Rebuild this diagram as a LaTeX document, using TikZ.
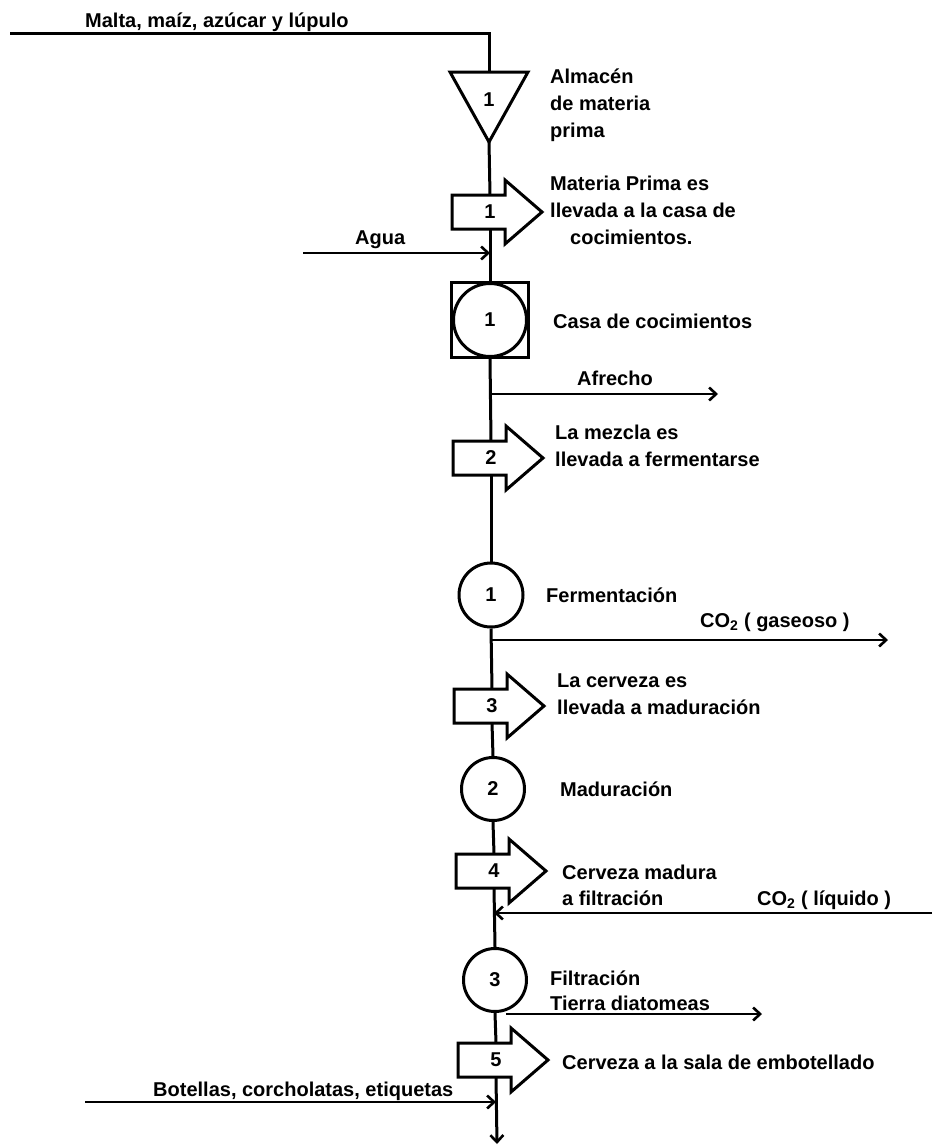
\documentclass[tikz,border=0pt]{standalone}
\usepackage{fontspec}
\setmainfont{Liberation Sans}
\usetikzlibrary{arrows.meta,calc}

% outline of a transport symbol around the number node #1
\newcommand\tblockoutline[1]{%
  \draw[outline] ($(#1)+(-38,-17)$) -- ($(#1)+(15,-17)$) -- ($(#1)+(15,-32)$)
    -- ($(#1)+(52,0)$) -- ($(#1)+(15,32)$) -- ($(#1)+(15,17)$)
    -- ($(#1)+(-38,17)$) -- cycle;}

\begin{document}
\begin{tikzpicture}[x=1pt,y=-1pt,
  every node/.style={font=\fontsize{20}{24}\selectfont\bfseries},
  flow/.style={line width=3pt},
  sideline/.style={line width=2.2pt},
  flowtip/.style={-{Straight Barb[length=7pt,width=13pt,line width=2.6pt]}},
  outline/.style={line width=3pt, line join=miter},
  opcirc/.style={circle, draw, line width=3pt, minimum size=63pt, inner sep=0pt},
  tbody/.style={rectangle, minimum width=20pt, minimum height=34pt, inner sep=0pt},
  lbl/.style={anchor=base west, inner sep=0pt},
]
\useasboundingbox (0,0) rectangle (932,1146);

% ---------- storage of raw material ----------
\node[inner sep=0pt] (alm) at (489,100) {1};
\coordinate (almtop) at (489,72);
\coordinate (almbot) at (489,142);
\draw[outline] (450,72) -- (528,72) -- (almbot) -- cycle;
\coordinate (rawin) at (10,33);
\coordinate (rawcorner) at (489,33);
\draw[flow] (rawin) -- (rawcorner) -- (almtop);
\node[lbl] at (85,27) {Malta, maíz, azúcar y lúpulo};
\node[lbl] at (550,83) {Almacén};
\node[lbl] at (550,110) {de materia};
\node[lbl] at (550,137) {prima};

% ---------- transport 1 ----------
\node[tbody] (t1) at (490,212) {1};
\tblockoutline{t1}
\node[lbl] at (550,190) {Materia Prima es};
\node[lbl] at (550,217) {llevada a la casa de};
\node[lbl] at (570,244) {cocimientos.};

% ---------- brewing house ----------
\node[draw, line width=3pt, minimum width=77pt, minimum height=75pt, inner sep=0pt] (casa) at (490,320) {};
\node[opcirc, minimum size=73pt] (casac) at (490,320) {1};
\node[lbl] at (553,328) {Casa de cocimientos};

\coordinate (j1) at (490,253);
\coordinate (aguain) at (303,253);
\draw[sideline, flowtip] (aguain) -- (j1);
\node[lbl] at (355,244) {Agua};

\coordinate (j2) at (490,394);
\coordinate (afout) at (718,394);
\draw[sideline, flowtip] (j2) -- (afout);
\node[lbl] at (577,385) {Afrecho};

% ---------- transport 2 ----------
\node[tbody] (t2) at (491,458) {2};
\tblockoutline{t2}
\node[lbl] at (555,439) {La mezcla es};
\node[lbl] at (555,466) {llevada a fermentarse};

% ---------- fermentation ----------
\node[opcirc, minimum size=64pt] (ferm) at (491,595) {1};
\node[lbl] at (546,602) {Fermentación};
\coordinate (j3) at (491,640);
\coordinate (gasout) at (888,640);
\draw[sideline, flowtip] (j3) -- (gasout);
\node[lbl] at (700,627) {CO\textsubscript{2} ( gaseoso )};

% ---------- transport 3 ----------
\node[tbody] (t3) at (492,706) {3};
\tblockoutline{t3}
\node[lbl] at (557,687) {La cerveza es};
\node[lbl] at (557,714) {llevada a maduración};

% ---------- maturation ----------
\node[opcirc] (mad) at (493,789) {2};
\node[lbl] at (560,796) {Maduración};

% ---------- transport 4 ----------
\node[tbody] (t4) at (494,871) {4};
\tblockoutline{t4}
\node[lbl] at (562,879) {Cerveza madura};
\node[lbl] at (562,905) {a filtración};
\coordinate (j4) at (494,913);
\coordinate (liqin) at (932,913);
\draw[sideline, flowtip] (liqin) -- (j4);
\node[lbl] at (757,905) {CO\textsubscript{2} ( líquido )};

% ---------- filtration ----------
\node[opcirc] (fil) at (495,980) {3};
\node[lbl] at (550,985) {Filtración};
\coordinate (tierrain) at (506,1014);
\coordinate (tierraout) at (762,1014);
\draw[sideline, flowtip] (tierrain) -- (tierraout);
\node[lbl] at (550,1010) {Tierra diatomeas};

% ---------- transport 5 ----------
\node[tbody] (t5) at (496,1060) {5};
\tblockoutline{t5}
\node[lbl] at (562,1069) {Cerveza a la sala de embotellado};
\coordinate (j5) at (496,1102);
\coordinate (botin) at (85,1102);
\draw[sideline, flowtip] (botin) -- (j5);
\node[lbl] at (153,1096) {Botellas, corcholatas, etiquetas};

% ---------- main flow line ----------
\coordinate (prodout) at (497,1144);
\draw[flow] (almbot) -- (t1.north);
\draw[flow] (t1.south) -- (casa.north);
\draw[flow] (casa.south) -- (t2.north);
\draw[flow] (t2.south) -- (ferm.north);
\draw[flow] (ferm.south) -- (t3.north);
\draw[flow] (t3.south) -- (mad.north);
\draw[flow] (mad.south) -- (t4.north);
\draw[flow] (t4.south) -- (fil.north);
\draw[flow] (fil.south) -- (t5.north);
\draw[flow, flowtip] (t5.south) -- (prodout);
\end{tikzpicture}
\end{document}
